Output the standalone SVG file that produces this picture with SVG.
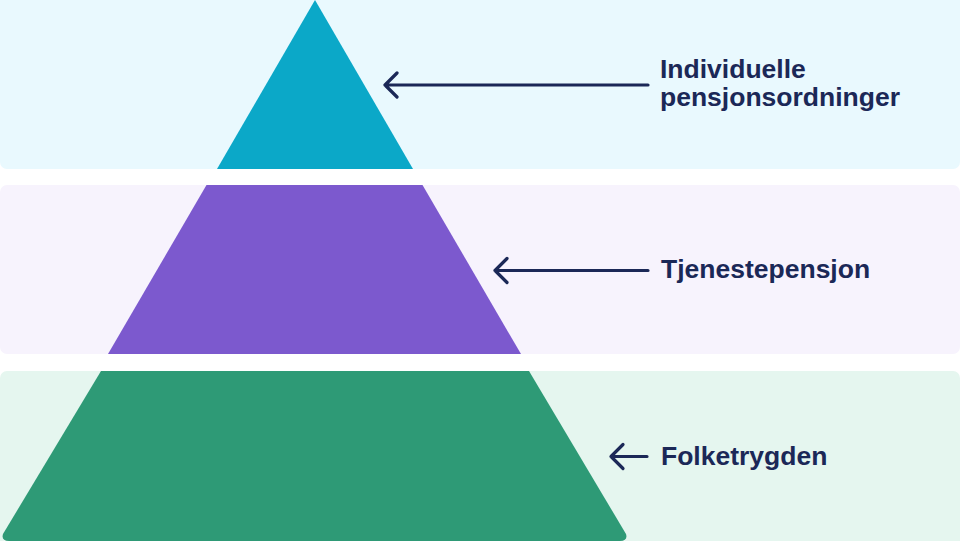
<svg xmlns="http://www.w3.org/2000/svg" width="960" height="541" viewBox="0 0 960 541">
  <defs>
    <style>
      .lbl { font-family: "Liberation Sans", Arial, sans-serif; font-weight: 700; font-size: 26.5px; fill: #1B2857; }
      .arrow { fill: none; stroke: #1B2857; stroke-width: 3.2; stroke-linecap: round; stroke-linejoin: round; }
    </style>
  </defs>
  <rect width="960" height="541" fill="#FFFFFF"/>
  <g id="band-top">
    <rect x="0" y="-8" width="960" height="177" rx="7" fill="#E9F9FE"/>
    <path id="shape-top" d="M315 0 L413 169 L217 169 Z" fill="#0BA8C8"/>
  </g>
  <g id="band-middle">
    <rect x="0" y="185" width="960" height="169" rx="7" fill="#F7F3FD"/>
    <path id="shape-middle" d="M206.5 185 L422.5 185 L521 354 L108 354 Z" fill="#7C59CE"/>
  </g>
  <g id="band-bottom">
    <rect x="0" y="371" width="960" height="178" rx="7" fill="#E5F6EF"/>
    <path id="shape-bottom" d="M101 371 L529 371 L626 534 Q628 541 620 541 L9 541 Q1 541 3 534 Z" fill="#2E9A76"/>
  </g>
  <g id="connectors">
    <path class="arrow" d="M648 85 L385 85 M397 73 L385 85 L397 97"/>
    <path class="arrow" d="M648 270.5 L495 270.5 M507 258.5 L495 270.5 L507 282.5"/>
    <path class="arrow" d="M647 456.5 L611 456.5 M623 444.5 L611 456.5 L623 468.5"/>
  </g>
  <g id="label-top">
    <text class="lbl" x="660" y="77.5">Individuelle</text>
    <text class="lbl" x="660" y="105.5">pensjonsordninger</text>
  </g>
  <g id="label-middle">
    <text class="lbl" x="661" y="277.5">Tjenestepensjon</text>
  </g>
  <g id="label-bottom">
    <text class="lbl" x="661" y="465">Folketrygden</text>
  </g>
</svg>
